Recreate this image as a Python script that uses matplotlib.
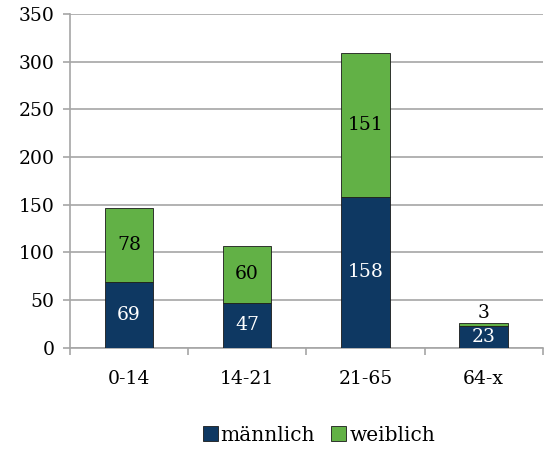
import numpy as np
import matplotlib.pyplot as plt

plt.rcParams['font.family'] = ['DejaVu Serif']

kategorien = ['0-14', '14-21', '21-65', '64-x']
maennlich = [69, 47, 158, 23]
weiblich = [78, 60, 151, 3]

farbe_m = '#0E3862'
farbe_w = '#62B146'
grau = '#A6A6A6'

fig = plt.figure(figsize=(5.45, 4.5), dpi=100)
ax = fig.add_axes([0.128, 0.227, 0.868, 0.742])

x = np.arange(len(kategorien))
breite = 0.41
b1 = ax.bar(x, maennlich, breite, color=farbe_m, edgecolor='#1a1a1a', linewidth=0.6,
            label='männlich', zorder=3)
b2 = ax.bar(x, weiblich, breite, bottom=maennlich, color=farbe_w, edgecolor='#1a1a1a',
            linewidth=0.6, label='weiblich', zorder=3)

for i in range(len(kategorien)):
    ax.text(x[i], maennlich[i] / 2, str(maennlich[i]), ha='center', va='center',
            color='white', fontsize=13.5, zorder=4)
    if weiblich[i] > 15:
        ax.text(x[i], maennlich[i] + weiblich[i] / 2, str(weiblich[i]), ha='center',
                va='center', color='black', fontsize=13.5, zorder=4)
    else:
        ax.text(x[i], maennlich[i] + weiblich[i] + 1, str(weiblich[i]), ha='center',
                va='bottom', color='black', fontsize=13.5, zorder=4)

ax.set_ylim(0, 350)
ax.set_xlim(-0.5, 3.5)
ax.set_yticks(range(0, 351, 50))
ax.set_xticks(x)
ax.set_xticklabels(kategorien)
ax.set_xticks(np.arange(-0.5, 4, 1), minor=True)
ax.tick_params(axis='x', which='major', length=0, pad=16, labelsize=13.5)
ax.tick_params(axis='x', which='minor', length=5, color=grau, width=1.2)
ax.tick_params(axis='y', length=5, color=grau, width=1.2, labelsize=13.5, pad=6)
ax.yaxis.grid(True, color=grau, linewidth=1.2, zorder=0)
for s in ['top', 'right']:
    ax.spines[s].set_visible(False)
ax.spines['left'].set_color(grau)
ax.spines['left'].set_linewidth(1.2)
ax.spines['bottom'].set_color(grau)
ax.spines['bottom'].set_linewidth(1.2)

fig.legend(handles=[b1, b2], labels=['männlich', 'weiblich'], loc='center',
           bbox_to_anchor=(0.585, 0.033), ncol=2, frameon=False, fontsize=14.5,
           handlelength=0.75, handleheight=0.75, handletextpad=0.15, columnspacing=0.8)

fig.savefig('out.png', dpi=100)
